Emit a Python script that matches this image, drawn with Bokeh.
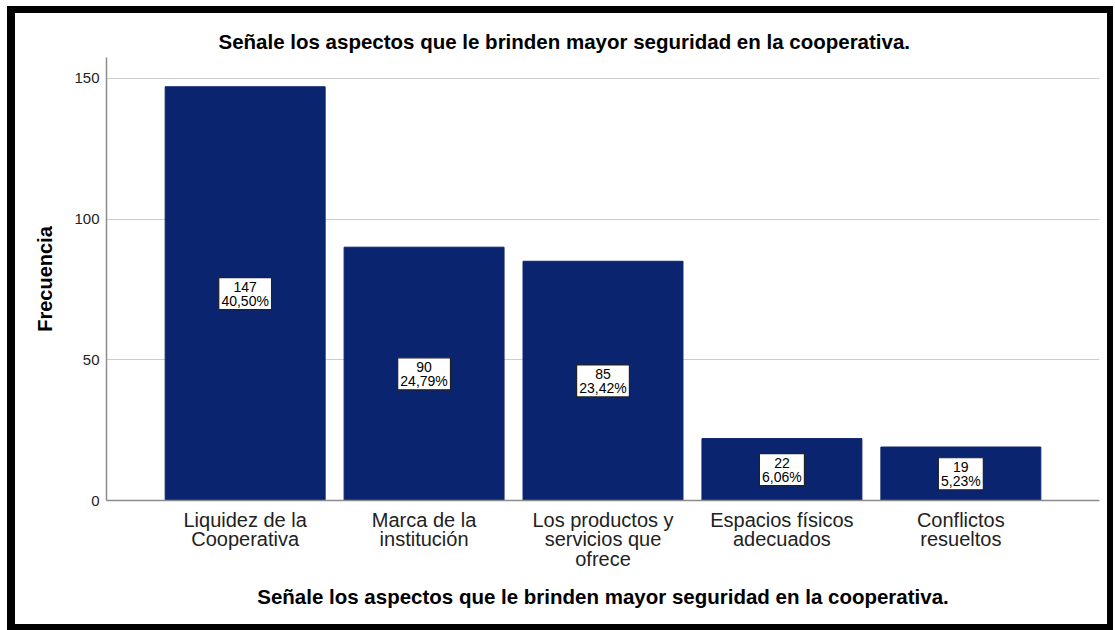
from bokeh.plotting import figure
from bokeh.models import ColumnDataSource, LabelSet, FactorRange, Range1d
from bokeh.core.properties import value
from bokeh.embed import file_html
from bokeh.resources import INLINE

# ---- data ----
categories = ["Liquidez de la\nCooperativa", "Marca de la\ninstitución",
              "Los productos y\nservicios que\nofrece", "Espacios físicos\nadecuados",
              "Conflictos\nresueltos"]
counts = [147, 90, 85, 22, 19]
percents = ["40,50%", "24,79%", "23,42%", "6,06%", "5,23%"]
y_ticks = [0, 50, 100, 150]

title_text = "Señale los aspectos que le brinden mayor seguridad en la cooperativa."
FONT = "Liberation Sans"
BAR_COLOR = "#0B2470"

count_text = [str(c) for c in counts]
box_w = [7.8 * max(len(a), len(b)) + 6 for a, b in zip(count_text, percents)]

src = ColumnDataSource(dict(
    cat=categories,
    count=counts,
    mid=[c / 2 for c in counts],
    ctext=count_text,
    ptext=percents,
    bw=box_w,
))

p = figure(width=1106, height=624, output_backend="svg", toolbar_location=None,
           x_range=FactorRange(*categories, range_padding=0.11),
           y_range=Range1d(0, 157.4),
           min_border_left=91, min_border_right=22, min_border_top=44, min_border_bottom=137,
           title=title_text)
p.styles = {"margin-left": "7px", "margin-top": "6px",
            "border-style": "solid", "border-color": "black",
            "border-width": "7px 6px 6px 8px", "overflow": "hidden"}

p.title.text_font = FONT
p.title.text_font_size = "20.5px"
p.title.text_font_style = "bold"
p.title.text_color = "black"
p.title.align = "left"
p.title.offset = 112
p.title.standoff = 9

p.vbar(x="cat", top="count", width=0.894, source=src, fill_color=BAR_COLOR,
       line_color=BAR_COLOR)

p.rect(x="cat", y="mid", width="bw", height=32, width_units="screen",
       height_units="screen", source=src, fill_color="white",
       line_color="#222222", line_width=1.2)

lab_count = LabelSet(x="cat", y="mid", text="ctext", source=src, text_align="center",
                     text_baseline="middle", y_offset=7, text_font=value(FONT),
                     text_font_size="14px", text_color="black")
lab_pct = LabelSet(x="cat", y="mid", text="ptext", source=src, text_align="center",
                   text_baseline="middle", y_offset=-7, text_font=value(FONT),
                   text_font_size="14px", text_color="black")
p.add_layout(lab_count)
p.add_layout(lab_pct)

p.outline_line_color = None
p.xgrid.grid_line_color = None
p.ygrid.grid_line_color = "#cccccc"
p.ygrid.ticker = y_ticks

p.yaxis.ticker = y_ticks
p.yaxis.axis_line_color = "#8c8c8c"
p.yaxis.axis_line_width = 1.5
p.yaxis.major_tick_line_color = None
p.yaxis.minor_tick_line_color = None
p.yaxis.major_tick_out = 0
p.yaxis.major_tick_in = 0
p.yaxis.major_label_standoff = 7
p.yaxis.major_label_text_font = FONT
p.yaxis.major_label_text_font_size = "15px"
p.yaxis.major_label_text_color = "#222222"
p.yaxis.axis_label = "Frecuencia"
p.yaxis.axis_label_text_font = FONT
p.yaxis.axis_label_text_font_size = "20px"
p.yaxis.axis_label_text_font_style = "bold"
p.yaxis.axis_label_text_color = "black"
p.yaxis.axis_label_standoff = 15

p.xaxis.axis_line_color = "#8c8c8c"
p.xaxis.axis_line_width = 1.5
p.xaxis.major_tick_line_color = None
p.xaxis.minor_tick_line_color = None
p.xaxis.major_tick_out = 0
p.xaxis.major_tick_in = 0
p.xaxis.major_label_standoff = 8
p.xaxis.major_label_text_font = FONT
p.xaxis.major_label_text_font_size = "20px"
p.xaxis.major_label_text_color = "#222222"
p.xaxis.major_label_text_line_height = 0.9
p.xaxis.axis_label = title_text
p.xaxis.axis_label_text_font = FONT
p.xaxis.axis_label_text_font_size = "20.5px"
p.xaxis.axis_label_text_font_style = "bold"
p.xaxis.axis_label_text_color = "black"
p.xaxis.axis_label_standoff = 12

open("out.html", "w").write(file_html(p, INLINE))
